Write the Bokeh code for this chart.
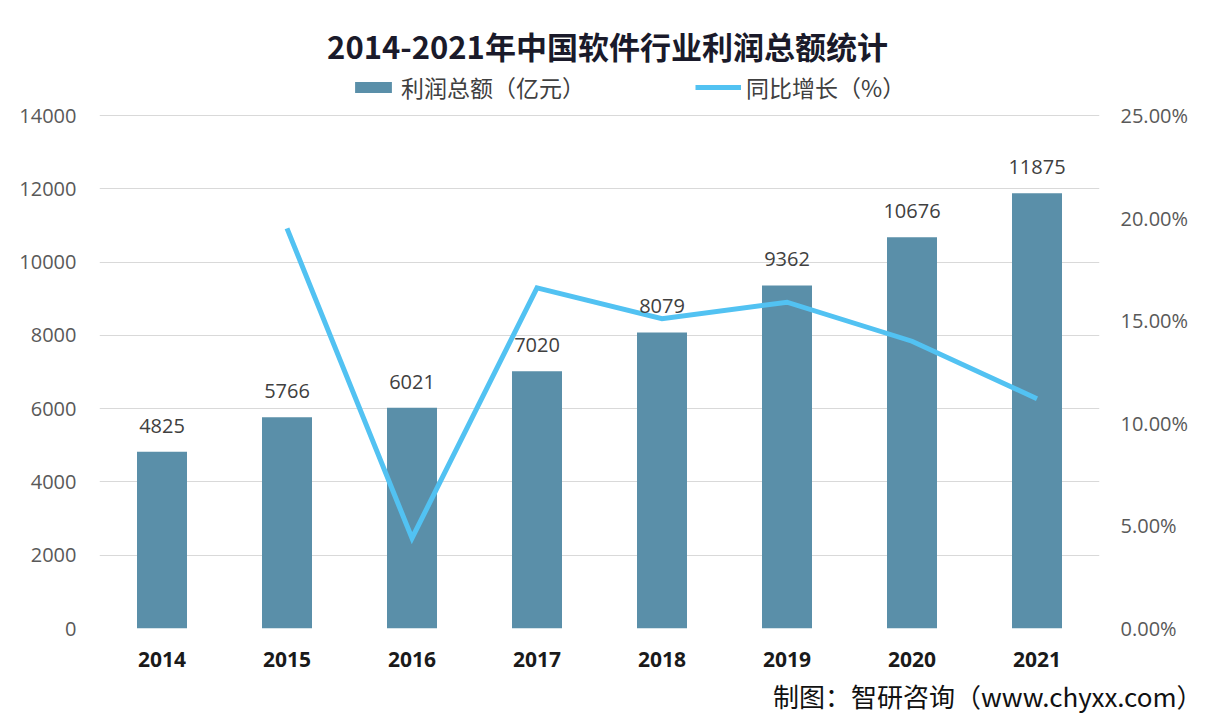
from bokeh.plotting import figure
from bokeh.models import (ColumnDataSource, Range1d, LinearAxis, PrintfTickFormatter,
                          Legend, LegendItem, Title, Label, LabelSet, FixedTicker)
from bokeh.core.properties import value
from bokeh.embed import file_html
from bokeh.resources import INLINE

years = ["2014", "2015", "2016", "2017", "2018", "2019", "2020", "2021"]
profit = [4825, 5766, 6021, 7020, 8079, 9362, 10676, 11875]
growth_years = ["2015", "2016", "2017", "2018", "2019", "2020", "2021"]
growth = [19.5, 4.4, 16.6, 15.1, 15.9, 14.0, 11.2]
left_ticks = [0, 2000, 4000, 6000, 8000, 10000, 12000, 14000]
right_ticks = [0, 5, 10, 15, 20, 25]

title_text = "2014-2021年中国软件行业利润总额统计"
bar_name = "利润总额（亿元）"
line_name = "同比增长（%）"
footer = "制图：智研咨询（www.chyxx.com）"

CJK = "Noto Sans CJK SC"
NUM = "Open Sans"
BAR_C = "#5A8FA9"
LINE_C = "#52C2F2"

# the frame extends above the plotting grid to hold the title and legend
GRID_PX = 513
TOP_PX = 613
ymax_left = left_ticks[-1] * TOP_PX / GRID_PX
ymax_right = right_ticks[-1] * TOP_PX / GRID_PX

p = figure(x_range=years, y_range=Range1d(0, ymax_left), width=1204, height=720,
           output_backend="svg", toolbar_location=None,
           min_border_left=99, min_border_right=105, min_border_top=15, min_border_bottom=92)
p.outline_line_color = None
p.background_fill_color = "white"
p.border_fill_color = "white"
p.x_range.range_padding = 0

p.extra_y_ranges = {"pct": Range1d(0, ymax_right)}

src = ColumnDataSource(dict(x=years, y=profit, lab=[str(v) for v in profit]))
bars = p.vbar(x="x", top="y", width=0.4, source=src, fill_color=BAR_C, line_color=None)
lsrc = ColumnDataSource(dict(x=growth_years, y=growth))
ln = p.line(x="x", y="y", source=lsrc, y_range_name="pct", line_color=LINE_C, line_width=5,
            line_join="miter")

labels = LabelSet(x="x", y="y", text="lab", source=src, text_align="center",
                  text_baseline="bottom", y_offset=19, text_font=value(NUM),
                  text_font_size="20px", text_color="#404040")
p.add_layout(labels)

# axes
p.yaxis.ticker = FixedTicker(ticks=left_ticks)
p.yaxis.axis_line_color = None
p.yaxis.major_tick_line_color = None
p.yaxis.minor_tick_line_color = None
p.yaxis.major_label_standoff = 17
p.yaxis.major_label_text_font = NUM
p.yaxis.major_label_text_font_size = "20px"
p.yaxis.major_label_text_color = "#595959"

p.xaxis.axis_line_color = None
p.xaxis.major_tick_line_color = None
p.xaxis.major_label_standoff = 17
p.xaxis.major_label_text_font = NUM
p.xaxis.major_label_text_font_style = "bold"
p.xaxis.major_label_text_font_size = "21px"
p.xaxis.major_label_text_color = "#1a1a1a"

ra = LinearAxis(y_range_name="pct", ticker=FixedTicker(ticks=right_ticks),
                formatter=PrintfTickFormatter(format="%.2f%%"))
ra.axis_line_color = None
ra.major_tick_line_color = None
ra.minor_tick_line_color = None
ra.major_label_standoff = 15
ra.major_label_text_font = NUM
ra.major_label_text_font_size = "20px"
ra.major_label_text_color = "#595959"
p.add_layout(ra, "right")

p.xgrid.grid_line_color = None
p.ygrid.grid_line_color = "#D9D9D9"
p.ygrid.grid_line_width = 1

legend = Legend(items=[LegendItem(label=bar_name, renderers=[bars]),
                       LegendItem(label=line_name, renderers=[ln])],
                orientation="horizontal", location=(251, 524),
                glyph_width=46, glyph_height=14, spacing=110, padding=0, margin=0,
                label_text_font=CJK, label_text_font_size="23px",
                label_text_color="#404040", label_standoff=5,
                border_line_color=None, background_fill_alpha=0)
p.add_layout(legend, "center")

p.add_layout(Label(x=508, y=583, x_units="screen", y_units="screen", text=title_text,
                   text_align="center", text_baseline="middle", text_font=CJK,
                   text_font_style="bold", text_font_size="31px", text_color="#1a1a2a"))
p.add_layout(Title(text=footer, align="right", offset=-103, standoff=11, text_font=CJK,
                   text_font_style="normal", text_font_size="26px", text_color="#111111"),
             "below")

open("out.html", "w").write(file_html(p, INLINE))
